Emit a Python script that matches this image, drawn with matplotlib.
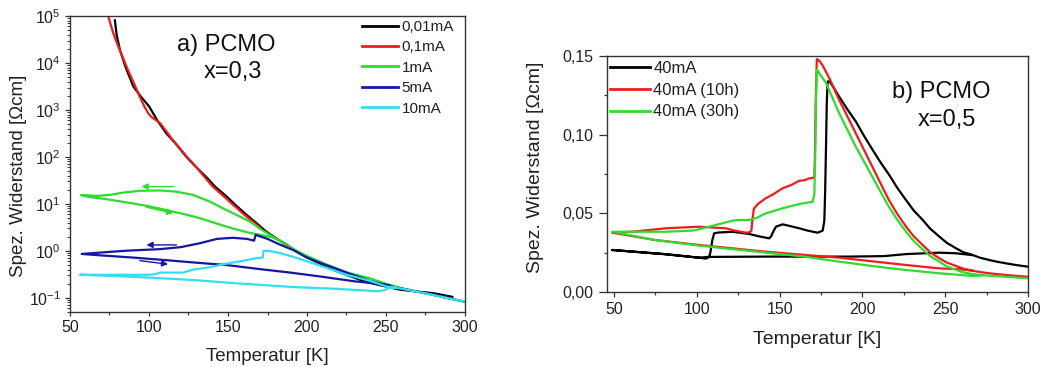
import matplotlib
matplotlib.use("Agg")
import matplotlib.pyplot as plt
from matplotlib.ticker import MultipleLocator, FuncFormatter, LogLocator, NullFormatter

plt.rcParams['font.family'] = ['Liberation Sans', 'DejaVu Sans']
plt.rcParams['mathtext.fontset'] = 'custom'
plt.rcParams['mathtext.rm'] = 'Liberation Sans'
plt.rcParams['mathtext.it'] = 'Liberation Sans'

# ---------------- a) PCMO x=0,3 : resistivity vs temperature, log scale ----------------
T_001mA = [78.4, 79.5, 81.6, 85, 90, 95, 100, 105, 111, 117, 123.7, 130, 136, 142, 149,
           155, 161.6, 168, 174, 180, 187, 193, 199.5, 208, 216, 226, 237, 248, 258.5,
           269, 279.6, 286, 292]
R_001mA = [8.1e4, 4.0e4, 1.9e4, 8.5e3, 3.2e3, 1.9e3, 1.2e3, 620, 316, 190, 100, 60, 38,
           23, 14.5, 9.3, 5.9, 3.9, 2.6, 1.9, 1.35, 1.0, 0.74, 0.54, 0.4, 0.3, 0.22, 0.18,
           0.15, 0.137, 0.126, 0.115, 0.105]

T_01mA = [74.2, 75.5, 77.4, 80, 85.8, 90, 94.2, 97, 99.5, 101, 102.7, 105, 107, 111, 115,
          120, 125, 130, 140, 150, 160, 170]
R_01mA = [1e5, 7e4, 4.3e4, 2.5e4, 8.3e3, 4e3, 1.9e3, 1.2e3, 850, 740, 660, 590, 525, 350,
          230, 145, 92, 60, 24, 12, 6.0, 3.2]

T_1mA = [300, 290, 280, 270, 260, 250, 240, 225, 212, 200, 190, 180, 170, 165, 159.5, 149,
         138.5, 128, 117, 107, 94, 83.7, 75, 66.8, 57,
         62, 69, 80, 90, 100, 111, 122, 132, 143, 153, 162, 170, 178, 183]
R_1mA = [0.083, 0.097, 0.115, 0.135, 0.16, 0.2, 0.26, 0.35, 0.52, 0.78, 1.15, 1.85, 3.0,
         4.0, 5.0, 7.4, 11.2, 15.5, 18.3, 19.3, 19.0, 17.4, 15.5, 14.8, 15.5,
         14.0, 13.2, 11.6, 10.2, 8.9, 7.4, 6.1, 5.0, 3.8, 3.0, 2.5, 2.2, 1.95, 1.65]

T_5mA = [300, 290, 280, 270, 260, 250, 240, 230, 220, 210, 200, 191, 182, 175, 170, 167.5,
         166.5, 162, 153, 143, 132, 120, 107, 86, 69, 57.4,
         70, 90, 107, 130, 149, 170, 191, 210, 230, 246, 252]
R_5mA = [0.082, 0.098, 0.116, 0.135, 0.158, 0.185, 0.23, 0.3, 0.4, 0.53, 0.72, 1.05, 1.4,
         1.8, 2.05, 2.2, 1.65, 1.8, 1.9, 1.8, 1.45, 1.2, 1.09, 1.01, 0.92, 0.86,
         0.8, 0.72, 0.65, 0.56, 0.5, 0.41, 0.34, 0.28, 0.225, 0.2, 0.185]

T_10mA = [300, 290, 280, 270, 260, 250, 240, 225, 212, 200, 190, 181, 175, 172.5, 172, 168,
          160, 151, 145, 138.6, 128, 121.5, 107, 104, 100.6, 80, 56.3,
          80, 100, 128, 150, 191, 220, 245, 249, 252, 256]
R_10mA = [0.083, 0.097, 0.115, 0.134, 0.157, 0.175, 0.23, 0.31, 0.44, 0.6, 0.77, 0.93, 1.0,
          1.0, 0.72, 0.7, 0.62, 0.55, 0.5, 0.45, 0.4, 0.345, 0.345, 0.32, 0.31, 0.31, 0.31,
          0.29, 0.27, 0.24, 0.21, 0.17, 0.155, 0.138, 0.145, 0.165, 0.168]

labels_a = ['0,01mA', '0,1mA', '1mA', '5mA', '10mA']

# sweep-direction arrows: (tail T, tail R, head T, head R)
arrows_a = [
    (115.3, 23.4, 95.3, 23.4, 'green'),
    (98.4, 8.5, 115.3, 6.3, 'green'),
    (117.4, 1.34, 98.4, 1.34, 'blue'),
    (94.2, 0.62, 112.1, 0.52, 'blue'),
]

# ---------------- b) PCMO x=0,5 : resistivity vs temperature, linear scale ----------------
T_40mA = [300, 293, 286.8, 281, 276.7, 271, 266.6, 261, 256.5, 251, 246.5, 241, 236.4, 231,
          226.3, 221, 216.2, 211, 206.2, 201, 196.1, 191, 186, 182, 180, 179,
          178.5, 178, 177.5, 177, 176, 173, 167, 161.9, 156, 151.8, 147.8, 146, 145, 143.7,
          137, 131.6, 121.5, 113, 110.5, 109.4, 108.2, 107.4, 105.4, 101.4, 81.3, 49,
          81.3, 101.4, 107, 141.7, 192, 213, 226.4, 246.5, 256.6, 266]
R_40mA = [0.0161, 0.0171, 0.0182, 0.0193, 0.0203, 0.0218, 0.0235, 0.0253, 0.0278, 0.0312,
          0.0352, 0.0402, 0.0458, 0.0518, 0.0585, 0.0663, 0.0744, 0.0823, 0.0903, 0.0992,
          0.1083, 0.1160, 0.1241, 0.131, 0.134, 0.1337, 0.12, 0.09, 0.063, 0.045, 0.039,
          0.0377, 0.039, 0.0405, 0.042, 0.043, 0.0415, 0.038, 0.0355, 0.0341, 0.0355,
          0.0369, 0.0383, 0.0378, 0.0373, 0.033, 0.025, 0.0222, 0.0212, 0.0218, 0.024,
          0.0267,
          0.024, 0.0218, 0.0223, 0.0225, 0.0225, 0.0228, 0.0241, 0.025, 0.0246, 0.0235]

T_40mA_10h = [300, 293, 286.8, 281, 276, 271, 266.6, 261, 256.6, 251, 246.5, 241, 236.4, 231,
              226.4, 221, 216, 211, 206, 201, 196, 191, 186, 180,
              176, 174, 172.5, 171.8, 171.3, 171, 170, 168, 165, 161.9, 157, 151.8, 146,
              141.7, 137, 134.5, 133.6, 133, 132, 129.6, 123, 117.5, 101.4, 81.3, 61, 49,
              75, 101.4, 141.7, 165, 186, 206, 226, 246.5, 258, 266]
R_40mA_10h = [0.0097, 0.0102, 0.0108, 0.0114, 0.012, 0.0127, 0.0135, 0.0148, 0.0165, 0.0187,
              0.0214, 0.0252, 0.0299, 0.0354, 0.0415, 0.0497, 0.0585, 0.0690, 0.0797,
              0.0903, 0.1009, 0.1115, 0.122, 0.136, 0.144, 0.147, 0.148, 0.12, 0.085,
              0.0735, 0.0723, 0.0723,
              0.071, 0.0707, 0.068, 0.0659, 0.062, 0.0596, 0.056, 0.053, 0.046, 0.039, 0.038,
              0.0377, 0.039, 0.0405, 0.0415, 0.0405, 0.0383, 0.0377,
              0.033, 0.0299, 0.0256, 0.0236, 0.0218, 0.0195, 0.0172, 0.015, 0.0145, 0.0137]

T_40mA_30h = [300, 292, 285, 280, 275, 271, 266.6, 261, 256.6, 251, 246.5, 241, 236.4, 231,
              226.4, 221, 216, 211, 206, 201, 196, 191, 186, 178, 174,
              172.5, 172, 171.5, 171, 170, 161.9, 151.8, 141.7, 136, 131.6, 125, 121.5,
              111.5, 100, 97.3, 81.3, 49,
              75, 101.4, 141.7, 165, 186, 206, 226, 246.5, 266.6, 272]
R_40mA_30h = [0.0087, 0.0093, 0.0098, 0.0101, 0.0105, 0.0109, 0.0114, 0.0125, 0.014, 0.0163,
              0.0193, 0.0228, 0.0271, 0.0324, 0.0383, 0.0460, 0.0542, 0.0636, 0.0733,
              0.0829, 0.0924, 0.1030, 0.1136, 0.133, 0.139, 0.1415, 0.12, 0.085, 0.062,
              0.0574, 0.0559,
              0.0532, 0.050, 0.047, 0.0458, 0.0458, 0.0453, 0.0426, 0.0395, 0.039, 0.0383,
              0.0383,
              0.033, 0.0295, 0.025, 0.0225, 0.0193, 0.0165, 0.014, 0.0119, 0.0102, 0.0105]

labels_b = ['40mA', '40mA (10h)', '40mA (30h)']

C_BLACK = '#000000'
C_RED = '#ee1c1c'
C_GREEN = '#2edc2e'
C_BLUE = '#1616a6'
C_CYAN = '#30e0ee'
SPINE = '#333333'
LW = 1.6

fig = plt.figure(figsize=(10.42, 3.67), dpi=100)
W, H = 1042.0, 367.0


def px_axes(x0, y0, x1, y1):
    return fig.add_axes([x0 / W, 1 - y1 / H, (x1 - x0) / W, (y1 - y0) / H])


def style_axes(ax):
    for s in ax.spines.values():
        s.set_color(SPINE)
        s.set_linewidth(1.0)
    ax.tick_params(which='both', direction='out', color=SPINE, labelcolor='#222222',
                   top=False, right=False, labelsize=11.5, width=0.9)


# ---- panel a ----
axa = px_axes(70, 16, 465, 312)
style_axes(axa)
axa.set_yscale('log')
for (t, r, c, lab) in [(T_001mA, R_001mA, C_BLACK, labels_a[0]),
                       (T_01mA, R_01mA, C_RED, labels_a[1]),
                       (T_1mA, R_1mA, C_GREEN, labels_a[2]),
                       (T_5mA, R_5mA, C_BLUE, labels_a[3]),
                       (T_10mA, R_10mA, C_CYAN, labels_a[4])]:
    axa.plot(t, r, color=c, lw=LW, label=lab, solid_joinstyle='round')

arrow_colors = {'green': C_GREEN, 'blue': C_BLUE}
for (t0, r0, t1, r1, c) in arrows_a:
    axa.annotate('', xy=(t1, r1), xytext=(t0, r0),
                 arrowprops=dict(arrowstyle='-|>', color=arrow_colors[c], lw=1.0,
                                 mutation_scale=9, shrinkA=0, shrinkB=0))

axa.set_xlim(50, 300)
axa.set_ylim(0.05, 1e5)
axa.xaxis.set_major_locator(MultipleLocator(50))
axa.xaxis.set_minor_locator(MultipleLocator(25))
axa.yaxis.set_major_locator(LogLocator(base=10, numticks=10))
axa.yaxis.set_minor_locator(LogLocator(base=10, subs=range(2, 10), numticks=20))
axa.yaxis.set_minor_formatter(NullFormatter())
axa.tick_params(axis='x', which='major', length=3.0, pad=3)
axa.tick_params(axis='x', which='minor', length=2.0)
axa.tick_params(axis='y', which='major', length=3.5, pad=3)
axa.tick_params(axis='y', which='minor', length=2.0, width=0.7)

axa.set_xlabel('Temperatur [K]', fontsize=13.5, color='#222222')
axa.xaxis.set_label_coords(0.5, -0.152)
axa.xaxis.label.set_va('center')
axa.set_ylabel('Spez. Widerstand [Ωcm]', fontsize=13.5, color='#222222')
axa.yaxis.set_label_coords(-0.131, 0.46)
axa.yaxis.label.set_va('center')

leg_a = axa.legend(loc='upper left', bbox_to_anchor=((362 - 70) / 395, 1 - (20 - 16) / 296),
                   frameon=False, fontsize=11, handlelength=2.35, handletextpad=0.25,
                   labelspacing=0.42, borderpad=0, borderaxespad=0)
for t in leg_a.get_texts():
    t.set_color('#222222')
for l in leg_a.get_lines():
    l.set_linewidth(2.0)

fig.text(226 / W, 1 - 45 / H, 'a) PCMO', fontsize=17, ha='center', va='center', color='#111111')
fig.text(233 / W, 1 - 72 / H, 'x=0,3', fontsize=17, ha='center', va='center', color='#111111')

# ---- panel b ----
axb = px_axes(607, 56, 1028, 292)
style_axes(axb)
for (t, r, c, lab) in [(T_40mA, R_40mA, C_BLACK, labels_b[0]),
                       (T_40mA_10h, R_40mA_10h, C_RED, labels_b[1]),
                       (T_40mA_30h, R_40mA_30h, C_GREEN, labels_b[2])]:
    axb.plot(t, r, color=c, lw=LW, label=lab, solid_joinstyle='round')

axb.set_xlim(45.8, 300)
axb.set_ylim(0, 0.15)
axb.xaxis.set_major_locator(MultipleLocator(50))
axb.xaxis.set_minor_locator(MultipleLocator(25))
axb.yaxis.set_major_locator(MultipleLocator(0.05))
axb.yaxis.set_minor_locator(MultipleLocator(0.025))
axb.yaxis.set_major_formatter(FuncFormatter(lambda v, p: f'{v:.2f}'.replace('.', ',')))
axb.tick_params(axis='x', which='major', length=3.5, pad=4)
axb.tick_params(axis='x', which='minor', length=2.5)
axb.tick_params(axis='y', which='major', length=6.0, pad=3.5)
axb.tick_params(axis='y', which='minor', length=2.5)

axb.set_xlabel('Temperatur [K]', fontsize=14, color='#222222')
axb.xaxis.set_label_coords(0.5, (292 - 340) / 236)
axb.xaxis.label.set_va('center')
axb.set_ylabel('Spez. Widerstand [Ωcm]', fontsize=14, color='#222222')
axb.yaxis.set_label_coords((535 - 607) / 421, (292 - 167) / 236)
axb.yaxis.label.set_va('center')

leg_b = axb.legend(loc='upper left', bbox_to_anchor=((610 - 607) / 421, 1 - (61 - 56) / 236),
                   frameon=False, fontsize=12, handlelength=2.4, handletextpad=0.2,
                   labelspacing=0.4, borderpad=0, borderaxespad=0)
for t in leg_b.get_texts():
    t.set_color('#222222')
for l in leg_b.get_lines():
    l.set_linewidth(2.0)

fig.text(941 / W, 1 - 92 / H, 'b) PCMO', fontsize=17, ha='center', va='center', color='#111111')
fig.text(947 / W, 1 - 120 / H, 'x=0,5', fontsize=17, ha='center', va='center', color='#111111')

fig.savefig('out.png', dpi=100)
